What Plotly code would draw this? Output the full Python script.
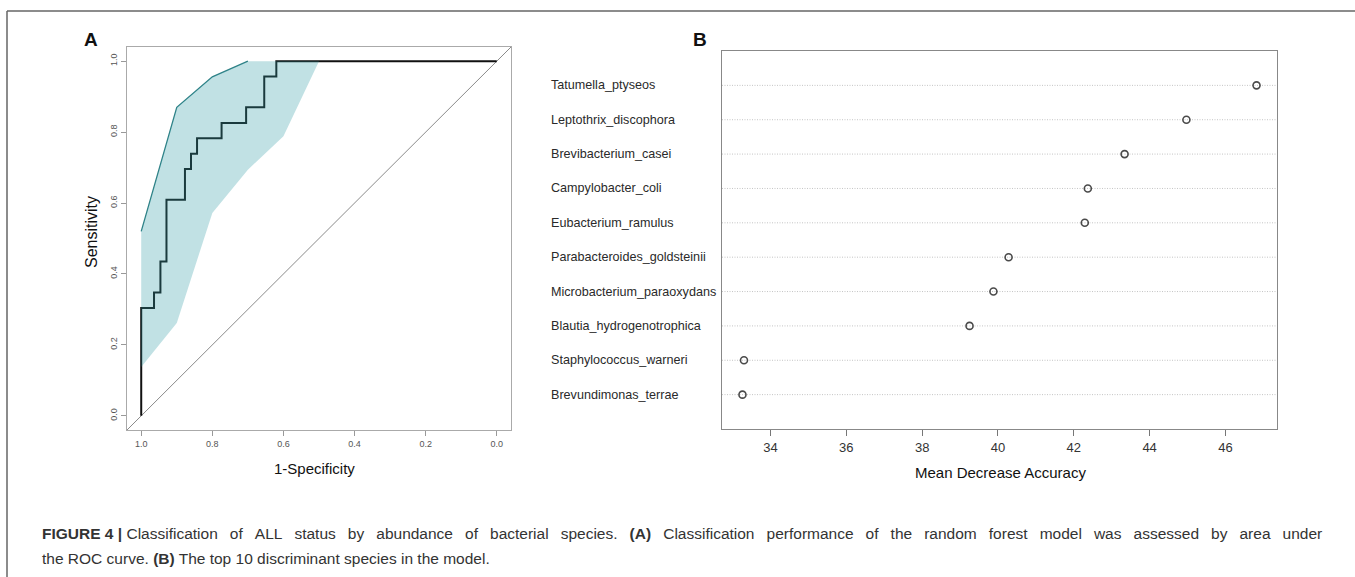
import plotly.graph_objects as go

W, H = 1355, 577

# ---------------- Data ----------------
# ROC curve (specificity, sensitivity) corner points
roc_spec = [1.0, 1.0, 0.964, 0.946, 0.929, 0.877, 0.860, 0.843, 0.774, 0.705, 0.654, 0.620, 0.0]
roc_sens = [0.0, 0.304, 0.348, 0.435, 0.609, 0.696, 0.739, 0.783, 0.826, 0.870, 0.957, 1.0, 1.0]

# Confidence band of sensitivity
ci_upper_spec = [1.0, 0.9, 0.8, 0.7, 0.5]
ci_upper_sens = [0.52, 0.87, 0.956, 1.0, 1.0]
ci_lower_spec = [0.5, 0.6, 0.7, 0.8, 0.9, 1.0]
ci_lower_sens = [1.0, 0.788, 0.694, 0.572, 0.262, 0.138]

roc_ticks = [1.0, 0.8, 0.6, 0.4, 0.2, 0.0]
roc_tick_labels = ["1.0", "0.8", "0.6", "0.4", "0.2", "0.0"]

# Variable importance (top first)
species = [
    "Tatumella_ptyseos",
    "Leptothrix_discophora",
    "Brevibacterium_casei",
    "Campylobacter_coli",
    "Eubacterium_ramulus",
    "Parabacteroides_goldsteinii",
    "Microbacterium_paraoxydans",
    "Blautia_hydrogenotrophica",
    "Staphylococcus_warneri",
    "Brevundimonas_terrae",
]
mda = [46.82, 44.97, 43.34, 42.37, 42.29, 40.28, 39.88, 39.25, 33.30, 33.26]
mda_ticks = [34, 36, 38, 40, 42, 44, 46]

caption_line1_words = ("Classification of ALL status by abundance of bacterial species. "
                       "<b>(A)</b> Classification performance of the random forest model "
                       "was assessed by area under").split(" ")
caption_line2 = "the ROC curve. <b>(B)</b> The top 10 discriminant species in the model."

# ---------------- Layout helpers ----------------
def px(x):
    return x / W

def py(y):
    return 1 - y / H

FONT = "Liberation Sans, Arial, Helvetica, sans-serif"
JUST_GAP = "\u2002\u00a0"   # widened word gap to imitate justified text
CAP_SIZE = 15.5

fig = go.Figure()

# diagonal reference line (corner to corner of panel A)
fig.add_trace(go.Scatter(
    x=[1.04, -0.04], y=[-0.04, 1.04], mode="lines",
    line=dict(color="#8a8a8a", width=1), xaxis="x", yaxis="y",
    hoverinfo="skip", showlegend=False))

# ROC curve
fig.add_trace(go.Scatter(
    x=roc_spec, y=roc_sens, mode="lines", line_shape="hv",
    line=dict(color="#111111", width=2), xaxis="x", yaxis="y",
    showlegend=False))

# upper edge of confidence band
fig.add_trace(go.Scatter(
    x=ci_upper_spec[:4], y=ci_upper_sens[:4], mode="lines",
    line=dict(color="#2f7f84", width=1.3), xaxis="x", yaxis="y",
    hoverinfo="skip", showlegend=False))

# confidence band polygon (semi-transparent, on top)
fig.add_trace(go.Scatter(
    x=ci_upper_spec + ci_lower_spec, y=ci_upper_sens + ci_lower_sens,
    mode="lines", fill="toself", fillcolor="rgba(50,155,165,0.30)",
    line=dict(width=0, color="rgba(0,0,0,0)"), xaxis="x", yaxis="y",
    hoverinfo="skip", showlegend=False))

# Panel B: dot chart
rows = list(range(len(species), 0, -1))
fig.add_trace(go.Scatter(
    x=mda, y=rows, mode="markers",
    marker=dict(symbol="circle-open", size=7, color="#4a4a4a", line=dict(width=1.6)),
    xaxis="x2", yaxis="y2", text=species, showlegend=False))

shapes = []
for r in rows:
    shapes.append(dict(type="line", xref="x2 domain", yref="y2", x0=0, x1=1, y0=r, y1=r,
                       line=dict(color="#c4c4c4", width=1, dash="1px,1.5px"), layer="below"))

# outer figure frame (top and left)
shapes.append(dict(type="line", xref="paper", yref="paper", x0=px(7), x1=1, y0=py(11), y1=py(11),
                   line=dict(color="#666666", width=1.5)))
shapes.append(dict(type="line", xref="paper", yref="paper", x0=px(7), x1=px(7), y0=0, y1=py(11),
                   line=dict(color="#666666", width=1.5)))

annotations = []
for name, r in zip(species, rows):
    annotations.append(dict(xref="paper", yref="y2", x=px(549), y=r, xanchor="left", yanchor="middle",
                            text=name, showarrow=False, font=dict(family=FONT, size=12.6, color="#2a2a2a")))

annotations += [
    dict(xref="paper", yref="paper", x=px(91), y=py(40), text="<b>A</b>", showarrow=False,
         xanchor="center", yanchor="middle", font=dict(family=FONT, size=19, color="#111")),
    dict(xref="paper", yref="paper", x=px(700), y=py(40), text="<b>B</b>", showarrow=False,
         xanchor="center", yanchor="middle", font=dict(family=FONT, size=19, color="#111")),
    dict(xref="paper", yref="paper", x=px(92), y=py(232), text="Sensitivity", textangle=-90,
         showarrow=False, xanchor="center", yanchor="middle", font=dict(family=FONT, size=16, color="#111")),
    dict(xref="paper", yref="paper", x=px(314), y=py(468), text="1-Specificity",
         showarrow=False, xanchor="center", yanchor="middle", font=dict(family=FONT, size=15, color="#111")),
    dict(xref="paper", yref="paper", x=px(1000), y=py(472), text="Mean Decrease Accuracy",
         showarrow=False, xanchor="center", yanchor="middle", font=dict(family=FONT, size=15, color="#111")),
    dict(xref="paper", yref="paper", x=px(40), y=py(533), xanchor="left", yanchor="middle",
         text="<b>FIGURE 4 |</b> " + JUST_GAP.join(caption_line1_words),
         showarrow=False, font=dict(family=FONT, size=CAP_SIZE, color="#333")),
    dict(xref="paper", yref="paper", x=px(40), y=py(558), xanchor="left", yanchor="middle",
         text=caption_line2,
         showarrow=False, font=dict(family=FONT, size=CAP_SIZE, color="#333")),
]

fig.update_layout(
    width=W, height=H, margin=dict(l=0, r=0, t=0, b=0),
    paper_bgcolor="white", plot_bgcolor="white", showlegend=False,
    font=dict(family=FONT),
    xaxis=dict(domain=[px(127), px(511)], range=[1.04, -0.04], anchor="y",
               tickvals=roc_ticks, ticktext=roc_tick_labels, ticks="outside", ticklen=5,
               tickcolor="#999", tickfont=dict(size=9, color="#555"),
               showline=True, linecolor="#aaaaaa", linewidth=1, mirror=True,
               showgrid=False, zeroline=False),
    yaxis=dict(domain=[py(430), py(47)], range=[-0.04, 1.04], anchor="x",
               tickvals=[0.0, 0.2, 0.4, 0.6, 0.8, 1.0], ticktext=["0.0", "0.2", "0.4", "0.6", "0.8", "1.0"],
               tickangle=-90, ticks="outside", ticklen=5, tickcolor="#999",
               tickfont=dict(size=9, color="#555"),
               showline=True, linecolor="#aaaaaa", linewidth=1, mirror=True,
               showgrid=False, zeroline=False),
    xaxis2=dict(domain=[px(722), px(1277)], range=[32.72, 47.36], anchor="y2",
                tickvals=mda_ticks, ticks="outside", ticklen=6, tickcolor="#777",
                tickfont=dict(size=13, color="#333"),
                showline=True, linecolor="#888888", linewidth=1.2, mirror=True,
                showgrid=False, zeroline=False),
    yaxis2=dict(domain=[py(429), py(51)], range=[0, 11], anchor="x2",
                showticklabels=False, ticks="",
                showline=True, linecolor="#888888", linewidth=1.2, mirror=True,
                showgrid=False, zeroline=False),
    shapes=shapes, annotations=annotations,
)

fig.write_html("out.html")
